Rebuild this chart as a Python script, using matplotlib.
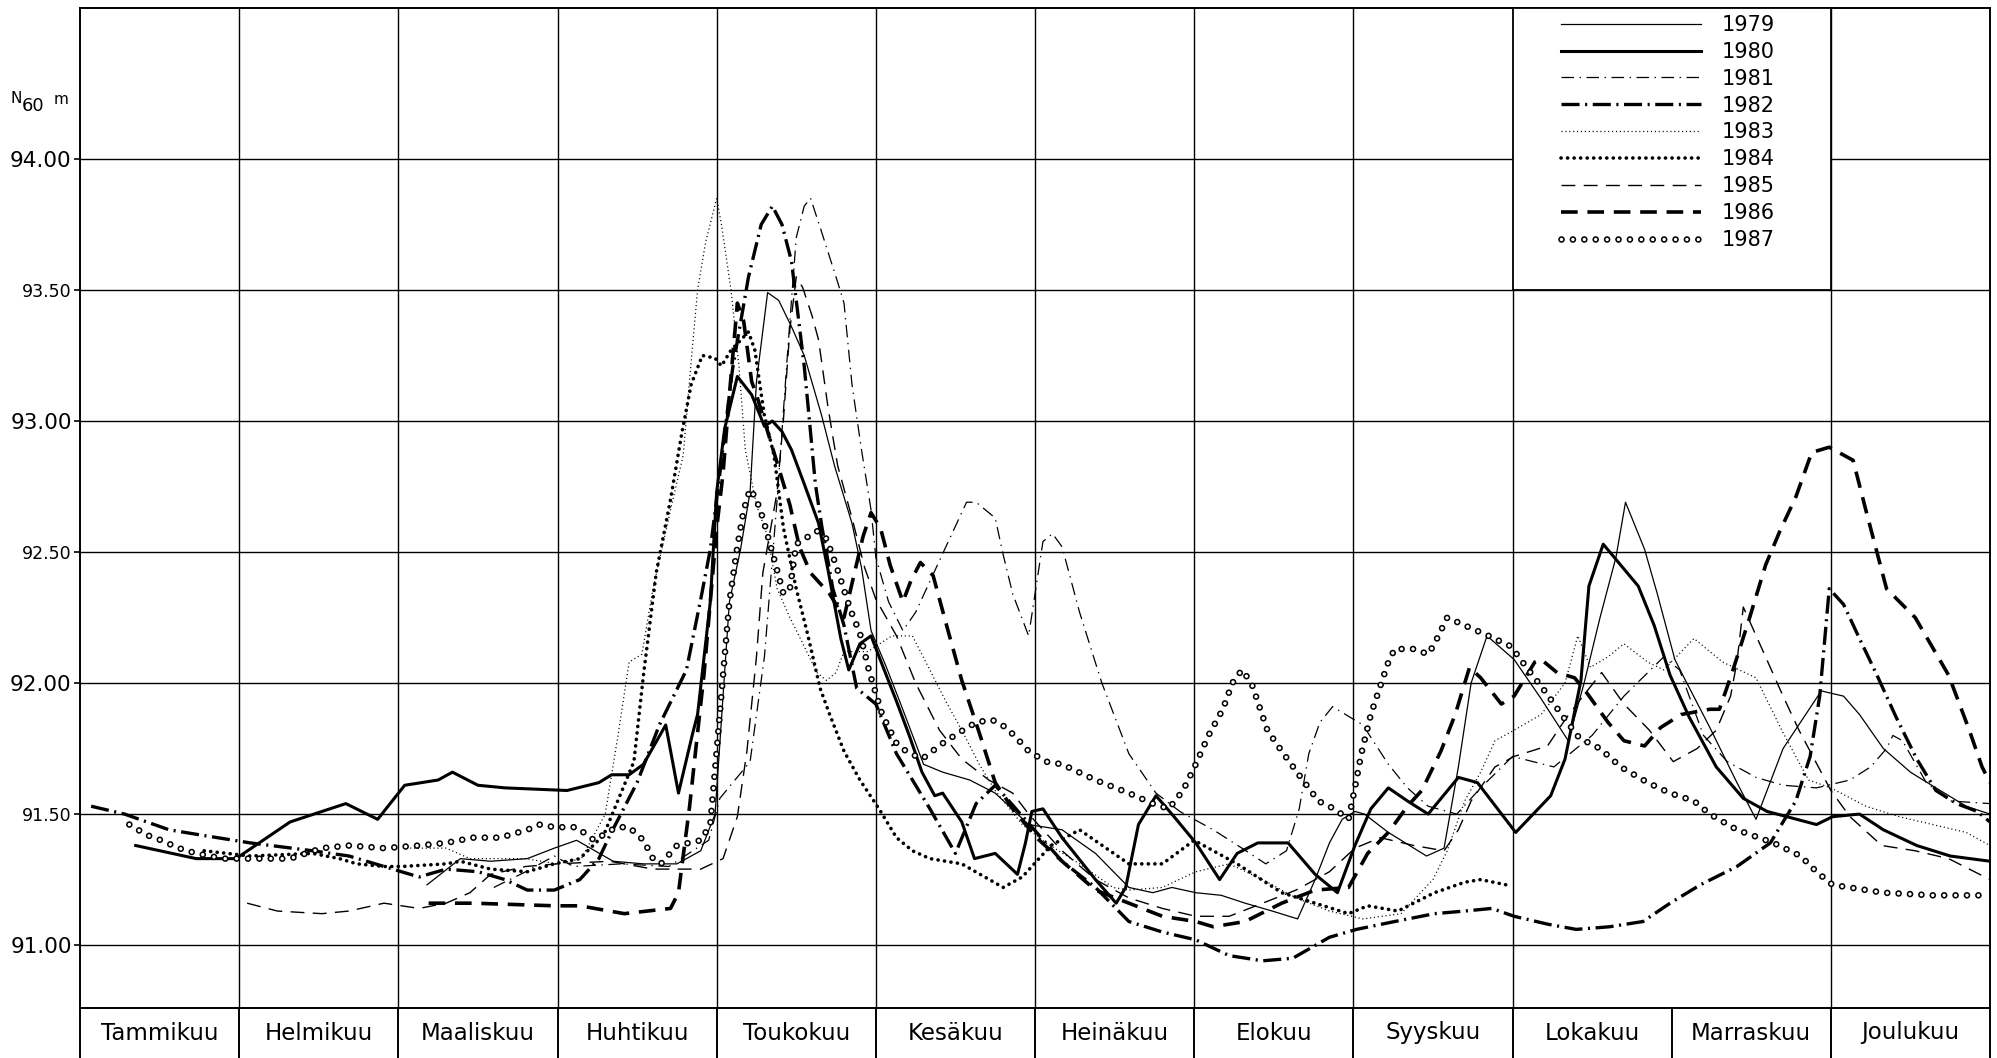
import matplotlib
matplotlib.use("Agg")
import matplotlib.pyplot as plt
from matplotlib.patches import Rectangle
from matplotlib.legend_handler import HandlerTuple

plt.rcParams['font.family'] = ['DejaVu Sans']
plt.rcParams['lines.scale_dashes'] = False

# ---------------- data ----------------
months = ["Tammikuu", "Helmikuu", "Maaliskuu", "Huhtikuu", "Toukokuu", "Kesäkuu",
          "Heinäkuu", "Elokuu", "Syyskuu", "Lokakuu", "Marraskuu", "Joulukuu"]
ytick_vals = [91.0, 91.5, 92.0, 92.5, 93.0, 93.5, 94.0]
ytick_labels = ["91.00", "91.50", "92.00", "92.50", "93.00", "93.50", "94.00"]
years = ["1979", "1980", "1981", "1982", "1983", "1984", "1985", "1986", "1987"]

# time in months from 1 January, water level N60 m
t1979 = [2.18, 2.39, 2.58, 2.81, 2.98, 3.12, 3.35, 3.54, 3.75, 3.90, 3.99, 4.08, 4.15, 4.21, 4.25, 4.32, 4.39, 4.47, 4.55, 4.66, 4.74, 4.85, 4.91, 4.97, 5.06, 5.15, 5.30, 5.42, 5.59, 5.75, 5.96, 6.17, 6.38, 6.59, 6.74, 6.86, 7.01, 7.17, 7.32, 7.49, 7.65, 7.76, 7.85, 7.93, 8.01, 8.07, 8.22, 8.46, 8.57, 8.66, 8.74, 8.84, 9.01, 9.18, 9.35, 9.45, 9.55, 9.65, 9.71, 9.83, 9.91, 10.02, 10.07, 10.24, 10.41, 10.53, 10.70, 10.94, 11.08, 11.18, 11.33, 11.50, 11.66, 11.85, 12.0]
h1979 = [91.23, 91.33, 91.32, 91.33, 91.37, 91.40, 91.32, 91.31, 91.31, 91.36, 91.50, 92.31, 92.51, 92.73, 93.15, 93.49, 93.46, 93.36, 93.25, 93.02, 92.83, 92.61, 92.44, 92.20, 92.07, 91.93, 91.69, 91.66, 91.63, 91.58, 91.46, 91.44, 91.35, 91.22, 91.20, 91.22, 91.20, 91.19, 91.16, 91.13, 91.10, 91.25, 91.39, 91.48, 91.51, 91.50, 91.43, 91.34, 91.37, 91.68, 92.00, 92.18, 92.09, 91.94, 91.78, 92.00, 92.25, 92.48, 92.69, 92.51, 92.34, 92.09, 92.03, 91.83, 91.62, 91.48, 91.75, 91.97, 91.95, 91.88, 91.75, 91.66, 91.60, 91.53, 91.50]

t1980 = [0.35, 0.73, 0.98, 1.32, 1.67, 1.87, 2.04, 2.25, 2.34, 2.50, 2.67, 3.06, 3.26, 3.34, 3.45, 3.54, 3.68, 3.76, 3.85, 3.88, 3.96, 4.00, 4.05, 4.13, 4.22, 4.30, 4.35, 4.41, 4.47, 4.55, 4.64, 4.70, 4.78, 4.83, 4.90, 4.97, 5.04, 5.13, 5.21, 5.29, 5.37, 5.42, 5.54, 5.62, 5.75, 5.89, 5.94, 5.98, 6.05, 6.17, 6.38, 6.51, 6.57, 6.65, 6.76, 6.86, 7.01, 7.16, 7.27, 7.40, 7.59, 7.76, 7.90, 8.01, 8.11, 8.22, 8.34, 8.47, 8.66, 8.78, 9.02, 9.24, 9.33, 9.43, 9.48, 9.57, 9.79, 9.89, 9.99, 10.11, 10.28, 10.45, 10.60, 10.91, 11.01, 11.18, 11.33, 11.54, 11.75, 12.0]
h1980 = [91.38, 91.33, 91.33, 91.47, 91.54, 91.48, 91.61, 91.63, 91.66, 91.61, 91.60, 91.59, 91.62, 91.65, 91.65, 91.69, 91.84, 91.58, 91.81, 91.88, 92.31, 92.73, 92.97, 93.17, 93.10, 92.98, 93.00, 92.96, 92.89, 92.76, 92.61, 92.43, 92.17, 92.05, 92.15, 92.18, 92.07, 91.93, 91.80, 91.66, 91.57, 91.58, 91.47, 91.33, 91.35, 91.27, 91.39, 91.51, 91.52, 91.41, 91.25, 91.16, 91.22, 91.46, 91.57, 91.50, 91.39, 91.25, 91.35, 91.39, 91.39, 91.27, 91.20, 91.38, 91.52, 91.60, 91.55, 91.50, 91.64, 91.62, 91.43, 91.57, 91.71, 92.01, 92.37, 92.53, 92.37, 92.22, 92.03, 91.87, 91.68, 91.56, 91.51, 91.46, 91.49, 91.50, 91.44, 91.38, 91.34, 91.32]

t1981 = [2.60, 2.80, 2.98, 3.10, 3.40, 3.70, 3.95, 4.02, 4.21, 4.30, 4.38, 4.45, 4.50, 4.55, 4.59, 4.66, 4.76, 4.80, 4.85, 4.91, 4.97, 5.00, 5.08, 5.17, 5.25, 5.44, 5.57, 5.63, 5.75, 5.80, 5.86, 5.96, 6.05, 6.11, 6.17, 6.28, 6.42, 6.59, 6.76, 6.91, 7.12, 7.30, 7.45, 7.58, 7.66, 7.72, 7.79, 7.87, 8.06, 8.22, 8.34, 8.47, 8.65, 8.80, 9.00, 9.26, 9.50, 9.70, 9.95, 10.05, 10.20, 10.35, 10.53, 10.70, 10.91, 11.12, 11.25, 11.35, 11.39, 11.45, 11.60, 11.75, 12.0]
h1981 = [91.22, 91.28, 91.34, 91.30, 91.31, 91.30, 91.40, 91.56, 91.70, 92.10, 92.70, 93.30, 93.70, 93.82, 93.85, 93.72, 93.53, 93.45, 93.14, 92.89, 92.66, 92.48, 92.31, 92.20, 92.27, 92.52, 92.69, 92.69, 92.63, 92.49, 92.34, 92.18, 92.54, 92.57, 92.52, 92.27, 92.00, 91.73, 91.58, 91.51, 91.44, 91.37, 91.31, 91.36, 91.52, 91.73, 91.85, 91.91, 91.84, 91.69, 91.60, 91.53, 91.50, 91.60, 91.72, 91.68, 91.80, 91.95, 92.10, 92.05, 91.80, 91.70, 91.64, 91.61, 91.60, 91.63, 91.68, 91.75, 91.80, 91.78, 91.62, 91.55, 91.54]

t1982 = [0.07, 0.28, 0.56, 0.76, 1.07, 1.46, 1.69, 1.91, 2.02, 2.13, 2.30, 2.50, 2.67, 2.81, 2.98, 3.14, 3.26, 3.33, 3.50, 3.64, 3.81, 3.90, 3.96, 4.02, 4.10, 4.20, 4.28, 4.35, 4.41, 4.47, 4.55, 4.58, 4.62, 4.66, 4.73, 4.80, 4.88, 5.00, 5.13, 5.34, 5.50, 5.63, 5.75, 5.88, 6.01, 6.17, 6.38, 6.59, 6.80, 7.01, 7.22, 7.43, 7.62, 7.85, 8.02, 8.26, 8.51, 8.70, 8.87, 9.01, 9.22, 9.40, 9.61, 9.82, 9.99, 10.18, 10.41, 10.62, 10.78, 10.87, 10.93, 10.99, 11.08, 11.18, 11.29, 11.41, 11.54, 11.66, 11.79, 11.92, 12.0]
h1982 = [91.53, 91.50, 91.44, 91.42, 91.39, 91.36, 91.34, 91.30, 91.28, 91.26, 91.29, 91.28, 91.25, 91.21, 91.21, 91.25, 91.33, 91.42, 91.62, 91.84, 92.05, 92.32, 92.51, 92.80, 93.20, 93.55, 93.75, 93.82, 93.75, 93.61, 93.21, 93.02, 92.76, 92.60, 92.36, 92.22, 91.98, 91.92, 91.73, 91.52, 91.35, 91.54, 91.61, 91.52, 91.43, 91.32, 91.22, 91.09, 91.05, 91.02, 90.96, 90.94, 90.95, 91.03, 91.06, 91.09, 91.12, 91.13, 91.14, 91.11, 91.08, 91.06, 91.07, 91.09, 91.16, 91.23, 91.30, 91.39, 91.55, 91.72, 91.95, 92.36, 92.30, 92.17, 92.03, 91.87, 91.71, 91.59, 91.54, 91.51, 91.47]

t1983 = [2.05, 2.30, 2.45, 2.80, 3.00, 3.15, 3.30, 3.38, 3.45, 3.53, 3.60, 3.71, 3.79, 3.83, 3.88, 3.93, 4.00, 4.03, 4.09, 4.14, 4.18, 4.25, 4.32, 4.38, 4.46, 4.55, 4.63, 4.69, 4.75, 4.80, 4.95, 5.10, 5.23, 5.44, 5.54, 5.65, 5.75, 5.92, 6.07, 6.28, 6.49, 6.59, 6.80, 7.01, 7.22, 7.43, 7.64, 7.85, 8.06, 8.30, 8.50, 8.59, 8.70, 8.80, 8.89, 9.01, 9.18, 9.33, 9.41, 9.49, 9.60, 9.70, 9.85, 9.95, 10.14, 10.32, 10.53, 10.70, 10.86, 11.00, 11.22, 11.43, 11.64, 11.85, 12.0]
h1983 = [91.37, 91.37, 91.33, 91.33, 91.31, 91.33, 91.50, 91.80, 92.08, 92.11, 92.36, 92.66, 92.87, 93.16, 93.50, 93.68, 93.85, 93.75, 93.50, 93.21, 92.89, 92.68, 92.56, 92.36, 92.25, 92.14, 92.04, 92.01, 92.04, 92.12, 92.12, 92.18, 92.18, 91.93, 91.82, 91.69, 91.59, 91.46, 91.39, 91.31, 91.22, 91.21, 91.22, 91.28, 91.31, 91.25, 91.18, 91.13, 91.10, 91.12, 91.25, 91.36, 91.55, 91.66, 91.78, 91.82, 91.88, 92.00, 92.18, 92.06, 92.10, 92.15, 92.08, 92.05, 92.17, 92.08, 92.02, 91.81, 91.63, 91.60, 91.53, 91.49, 91.46, 91.43, 91.38]

t1984 = [0.78, 1.07, 1.46, 1.63, 1.74, 1.91, 2.02, 2.30, 2.39, 2.58, 2.81, 2.98, 3.14, 3.29, 3.48, 3.54, 3.62, 3.71, 3.78, 3.84, 3.91, 3.99, 4.03, 4.09, 4.20, 4.24, 4.30, 4.36, 4.42, 4.50, 4.57, 4.65, 4.71, 4.80, 4.90, 5.02, 5.13, 5.23, 5.34, 5.54, 5.80, 5.92, 6.10, 6.28, 6.59, 6.80, 7.00, 7.27, 7.55, 7.76, 7.97, 8.09, 8.28, 8.51, 8.70, 8.80, 8.96]
h1984 = [91.36, 91.34, 91.35, 91.33, 91.31, 91.30, 91.30, 91.31, 91.32, 91.29, 91.28, 91.31, 91.33, 91.42, 91.70, 92.03, 92.42, 92.70, 92.95, 93.14, 93.25, 93.24, 93.21, 93.27, 93.34, 93.27, 93.02, 92.87, 92.59, 92.36, 92.19, 91.98, 91.88, 91.74, 91.63, 91.52, 91.41, 91.36, 91.33, 91.31, 91.22, 91.26, 91.38, 91.44, 91.31, 91.31, 91.40, 91.31, 91.20, 91.16, 91.12, 91.15, 91.13, 91.20, 91.24, 91.25, 91.23]

t1985 = [1.05, 1.24, 1.52, 1.69, 1.91, 2.13, 2.30, 2.45, 2.58, 2.80, 3.00, 3.33, 3.60, 3.90, 4.04, 4.13, 4.19, 4.25, 4.29, 4.38, 4.42, 4.46, 4.50, 4.54, 4.60, 4.64, 4.70, 4.76, 4.85, 4.93, 5.00, 5.13, 5.25, 5.40, 5.54, 5.71, 5.86, 5.96, 6.17, 6.38, 6.59, 6.80, 7.01, 7.22, 7.43, 7.64, 7.85, 8.01, 8.17, 8.38, 8.57, 8.66, 8.74, 8.89, 9.01, 9.22, 9.33, 9.43, 9.56, 9.70, 9.86, 10.01, 10.16, 10.28, 10.37, 10.41, 10.45, 10.59, 10.70, 10.80, 11.00, 11.12, 11.32, 11.53, 11.74, 12.0]
h1985 = [91.16, 91.13, 91.12, 91.13, 91.16, 91.14, 91.16, 91.20, 91.27, 91.30, 91.31, 91.32, 91.29, 91.29, 91.33, 91.49, 91.74, 92.10, 92.42, 92.73, 93.01, 93.35, 93.55, 93.51, 93.40, 93.31, 93.05, 92.83, 92.63, 92.44, 92.32, 92.18, 92.00, 91.82, 91.71, 91.63, 91.58, 91.50, 91.36, 91.25, 91.18, 91.14, 91.11, 91.11, 91.16, 91.21, 91.28, 91.37, 91.41, 91.38, 91.36, 91.44, 91.55, 91.68, 91.72, 91.76, 91.86, 91.94, 92.04, 91.92, 91.82, 91.70, 91.75, 91.82, 91.95, 92.08, 92.29, 92.10, 91.95, 91.82, 91.59, 91.49, 91.38, 91.36, 91.33, 91.25]

t1986 = [2.19, 2.47, 2.98, 3.14, 3.42, 3.71, 3.76, 3.83, 3.88, 3.92, 3.96, 4.00, 4.04, 4.08, 4.13, 4.17, 4.22, 4.25, 4.38, 4.46, 4.52, 4.59, 4.71, 4.80, 4.92, 4.97, 5.03, 5.09, 5.17, 5.22, 5.28, 5.36, 5.44, 5.54, 5.65, 5.75, 5.86, 6.01, 6.17, 6.38, 6.59, 6.80, 7.01, 7.12, 7.32, 7.55, 7.76, 7.97, 8.09, 8.22, 8.34, 8.43, 8.55, 8.64, 8.73, 8.80, 8.93, 9.01, 9.14, 9.18, 9.28, 9.39, 9.47, 9.60, 9.70, 9.83, 9.93, 10.06, 10.24, 10.30, 10.38, 10.49, 10.59, 10.68, 10.78, 10.88, 10.99, 11.14, 11.22, 11.35, 11.53, 11.74, 11.87, 11.95, 12.0]
h1986 = [91.16, 91.16, 91.15, 91.15, 91.12, 91.14, 91.20, 91.53, 91.81, 92.03, 92.31, 92.59, 92.80, 93.10, 93.45, 93.38, 93.15, 93.10, 92.84, 92.68, 92.52, 92.42, 92.34, 92.25, 92.56, 92.65, 92.59, 92.45, 92.31, 92.39, 92.46, 92.41, 92.23, 92.01, 91.81, 91.62, 91.52, 91.41, 91.32, 91.21, 91.16, 91.11, 91.09, 91.07, 91.09, 91.16, 91.21, 91.22, 91.35, 91.43, 91.53, 91.59, 91.74, 91.88, 92.06, 92.02, 91.92, 91.95, 92.08, 92.09, 92.04, 92.02, 91.96, 91.85, 91.78, 91.76, 91.83, 91.88, 91.90, 91.90, 92.04, 92.25, 92.45, 92.58, 92.71, 92.88, 92.90, 92.85, 92.66, 92.36, 92.25, 92.03, 91.82, 91.68, 91.62]

t1987 = [0.31, 0.42, 0.51, 0.62, 0.73, 0.90, 1.10, 1.32, 1.52, 1.69, 1.91, 2.13, 2.30, 2.47, 2.64, 2.81, 2.89, 2.98, 3.12, 3.23, 3.37, 3.45, 3.54, 3.60, 3.65, 3.75, 3.90, 3.96, 3.98, 4.00, 4.04, 4.08, 4.13, 4.17, 4.21, 4.25, 4.29, 4.34, 4.42, 4.46, 4.50, 4.63, 4.69, 4.75, 4.84, 4.90, 4.96, 5.04, 5.13, 5.19, 5.29, 5.42, 5.52, 5.63, 5.73, 5.82, 5.90, 5.96, 6.07, 6.17, 6.38, 6.59, 6.74, 6.84, 6.93, 7.01, 7.09, 7.18, 7.24, 7.30, 7.36, 7.46, 7.55, 7.67, 7.78, 7.88, 7.97, 8.01, 8.05, 8.11, 8.17, 8.22, 8.26, 8.38, 8.47, 8.51, 8.59, 8.70, 8.85, 8.99, 9.10, 9.19, 9.32, 9.42, 9.55, 9.68, 9.85, 9.99, 10.14, 10.24, 10.41, 10.64, 10.81, 10.91, 11.01, 11.33, 11.64, 11.94]
h1987 = [91.46, 91.42, 91.40, 91.37, 91.35, 91.33, 91.33, 91.33, 91.37, 91.38, 91.37, 91.38, 91.39, 91.41, 91.41, 91.44, 91.46, 91.45, 91.45, 91.40, 91.45, 91.45, 91.40, 91.33, 91.31, 91.38, 91.40, 91.46, 91.60, 91.74, 92.03, 92.31, 92.52, 92.66, 92.74, 92.70, 92.63, 92.52, 92.34, 92.36, 92.53, 92.58, 92.55, 92.45, 92.28, 92.19, 92.04, 91.88, 91.77, 91.74, 91.71, 91.77, 91.81, 91.85, 91.86, 91.83, 91.78, 91.74, 91.70, 91.69, 91.63, 91.58, 91.54, 91.52, 91.59, 91.69, 91.80, 91.90, 92.00, 92.05, 92.00, 91.82, 91.74, 91.64, 91.55, 91.52, 91.48, 91.60, 91.73, 91.88, 91.99, 92.08, 92.13, 92.13, 92.11, 92.15, 92.25, 92.22, 92.18, 92.14, 92.05, 91.98, 91.87, 91.79, 91.75, 91.68, 91.62, 91.58, 91.55, 91.50, 91.44, 91.39, 91.34, 91.28, 91.23, 91.20, 91.19, 91.19]

series = {
    "1979": (t1979, h1979), "1980": (t1980, h1980), "1981": (t1981, h1981),
    "1982": (t1982, h1982), "1983": (t1983, h1983), "1984": (t1984, h1984),
    "1985": (t1985, h1985), "1986": (t1986, h1986),
}

# ---------------- styles (dash lengths in points, not scaled) ----------------
styles = {
    "1979": dict(lw=0.9, ls='-'),
    "1980": dict(lw=2.2, ls='-'),
    "1981": dict(lw=0.9, ls=(0, (9, 4, 1, 4))),
    "1982": dict(lw=2.4, ls=(0, (13, 4, 1.5, 4))),
    "1983": dict(lw=0.9, ls=(0, (0.8, 2.0))),
    "1984": dict(lw=2.6, ls=(0, (0.1, 4.6)), dash_capstyle='round'),
    "1985": dict(lw=1.0, ls=(0, (10, 6))),
    "1986": dict(lw=2.6, ls=(0, (12, 7))),
}

W, H = 1997, 1058
fig = plt.figure(figsize=(W / 100, H / 100), dpi=100)
fig.patch.set_facecolor('white')

ax = fig.add_axes([80 / W, 50 / H, 1910 / W, 1000 / H])
ax.set_xlim(0, 12)
ax.set_ylim(90.76, 94.576)

# grid: months (no line between Lokakuu and Marraskuu), levels every 0.5 m
ax.set_xticks([1, 2, 3, 4, 5, 6, 7, 8, 9, 11])
ax.tick_params(axis='x', length=0, labelbottom=False)
ax.set_yticks(ytick_vals)
ax.set_yticklabels(ytick_labels)
ax.tick_params(axis='y', direction='out', length=4.5, width=1.2, pad=1.5, colors='black')
for lab, val in zip(ax.get_yticklabels(), ytick_vals):
    lab.set_fontsize(15.5 if val == int(val) else 12.5)
ax.grid(True, color='black', lw=1.0)
ax.set_axisbelow(True)
for sp in ax.spines.values():
    sp.set_linewidth(1.4)
    sp.set_color('black')

handles = []
for yr in years[:-1]:
    t, h = series[yr]
    ln, = ax.plot(t, h, color='black', solid_joinstyle='round', **styles[yr])
    handles.append(ln)

# 1987: open circles along the curve (black dots with white centres)
ring = (0, (0.01, 8.2))
r1, = ax.plot(t1987, h1987, color='black', lw=4.8, ls=ring, dash_capstyle='round')
r2, = ax.plot(t1987, h1987, color='white', lw=2.5, ls=ring, dash_capstyle='round')
handles.append((r1, r2))

# legend box occupying Lokakuu-Marraskuu above 93.50
box = Rectangle((9, 93.5), 2, 94.576 - 93.5, facecolor='white', edgecolor='black',
                lw=1.3, zorder=3, clip_on=False)
ax.add_patch(box)
leg = ax.legend(handles, years, loc='upper left', bbox_to_anchor=(0.7754, 0.993),
                frameon=False, handlelength=6.7, handletextpad=1.0, labelspacing=0.33,
                borderpad=0, borderaxespad=0, fontsize=15,
                handler_map={tuple: HandlerTuple(ndivide=1)})
leg.set_zorder(5)

# month label row
axm = fig.add_axes([80 / W, 0, 1910 / W, 50 / H])
axm.set_xlim(0, 12)
axm.set_ylim(0, 1)
axm.axis('off')
for i in range(13):
    axm.axvline(i, color='black', lw=1.4, clip_on=False)
for i, name in enumerate(months):
    axm.text(i + 0.5, 0.5, name, ha='center', va='center', fontsize=16.5)

# axis unit label: N60 m
fig.text(10 / W, 1 - 103 / H, "N", fontsize=11, va='baseline', ha='left')
fig.text(22 / W, 1 - 111 / H, "60", fontsize=13, va='baseline', ha='left')
fig.text(54 / W, 1 - 104 / H, "m", fontsize=11, va='baseline', ha='left')

fig.savefig("out.png", dpi=100, facecolor='white')
